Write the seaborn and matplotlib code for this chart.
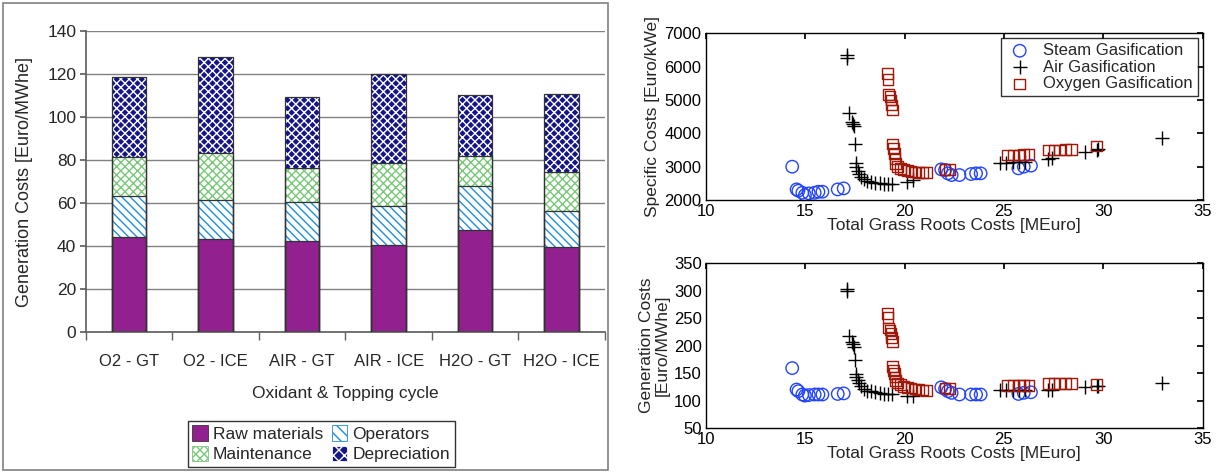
import matplotlib
matplotlib.use("Agg")
import matplotlib.pyplot as plt
from matplotlib.patches import Patch, Rectangle
import numpy as np
import seaborn as sns

# left panel: stacked generation costs per configuration
categories = ["O2 - GT", "O2 - ICE", "AIR - GT", "AIR - ICE", "H2O - GT", "H2O - ICE"]
raw_materials = [44.1, 43.2, 42.3, 40.7, 47.5, 39.6]
operators = [19.1, 18.4, 18.3, 18.0, 20.3, 16.9]
maintenance = [18.1, 21.6, 15.9, 20.1, 14.0, 18.0]
depreciation = [37.6, 44.6, 32.8, 41.5, 28.3, 36.1]

# right panels: grass roots costs vs specific / generation costs
steam_x = [14.35, 14.57, 14.66, 14.86, 14.99, 15.19, 15.48, 15.67, 15.87, 16.64, 16.94,
           21.85, 22.04, 22.18, 22.37, 22.76, 23.35, 23.6, 23.83, 25.73, 26.0, 26.36]
steam_specific = [3000, 2320, 2280, 2220, 2150, 2200, 2220, 2250, 2250, 2320, 2350,
                  2920, 2900, 2800, 2750, 2750, 2780, 2800, 2800, 2950, 3000, 3030]
steam_generation = [159, 120, 117, 111, 109, 110, 111, 111, 111, 112, 113,
                    124, 121, 117, 114, 111, 111, 111, 111, 112, 114, 115]

air_x = [17.13, 17.13, 17.23, 17.36, 17.42, 17.46, 17.52, 17.58, 17.58, 17.65, 17.73, 17.81,
         17.96, 18.1, 18.29, 18.49, 18.78, 18.97, 19.17, 19.36, 20.14, 20.43,
         24.8, 25.09, 25.48, 25.77, 26.06, 27.23, 27.42, 29.07, 29.66, 29.75, 32.96]
air_specific = [6350, 6250, 4600, 4350, 4280, 4220, 3680, 3100, 3000, 2880, 2780, 2700,
                2620, 2570, 2540, 2520, 2500, 2490, 2490, 2480, 2550, 2600,
                3120, 3120, 3130, 3140, 3140, 3220, 3250, 3450, 3500, 3520, 3870]
air_generation = [303, 299, 218, 206, 202, 197, 174, 149, 143, 137, 131, 126,
                  121, 118, 117, 115, 114, 112, 112, 111, 109, 109,
                  120, 120, 120, 119, 119, 120, 120, 124, 126, 126, 132]

oxygen_x = [19.13, 19.17, 19.21, 19.27, 19.32, 19.36, 19.4, 19.4, 19.44, 19.48, 19.52, 19.56,
            19.65, 19.79, 19.95, 20.14, 20.33, 20.53, 20.72, 20.92, 21.11, 22.04, 22.28,
            25.19, 25.48, 25.77, 26.0, 26.26, 27.23, 27.52, 27.81, 28.1, 28.39, 29.66]
oxygen_specific = [5800, 5620, 5170, 5100, 5000, 4850, 4700, 3680, 3550, 3400, 3250, 3100,
                   3000, 2950, 2920, 2880, 2850, 2840, 2820, 2820, 2820, 2920, 2920,
                   3350, 3350, 3350, 3370, 3370, 3500, 3500, 3500, 3520, 3520, 3620]
oxygen_generation = [258, 251, 232, 228, 222, 214, 208, 162, 155, 149, 143, 137,
                     132, 129, 126, 124, 123, 121, 120, 119, 118, 123, 122,
                     128, 128, 128, 128, 128, 131, 131, 131, 131, 131, 129]

sns.set_theme(style="white")
plt.rcParams["font.family"] = ["Liberation Sans", "DejaVu Sans"]
plt.rcParams["hatch.linewidth"] = 1.0

fig = plt.figure(figsize=(12.21, 4.73), dpi=100)

# ---------------- left: stacked bars ----------------
ax = fig.add_axes([0.0704, 0.298, 0.425, 0.636])
stack = np.cumsum([raw_materials, operators, maintenance, depreciation], axis=0)
layers = [
    ("Depreciation", stack[3], "#14148c", "white", "xxxx"),
    ("Maintenance", stack[2], "white", "#78c878", "xxxx"),
    ("Operators", stack[1], "white", "#1e8ee0", "\\\\\\\\"),
    ("Raw materials", stack[0], "#93208f", "#93208f", None),
]
for name, heights, face, hcol, hatch in layers:
    sns.barplot(x=categories, y=heights, ax=ax, color=face, saturation=1, width=0.4,
                edgecolor=hcol, linewidth=0, hatch=hatch, zorder=2)
for name, heights, face, hcol, hatch in layers:
    sns.barplot(x=categories, y=heights, ax=ax, color="#333333", fill=False,
                width=0.4, linewidth=0.9, zorder=3)

ax.set_ylim(0, 140)
ax.set_xlim(-0.5, 5.5)
ax.set_yticks(range(0, 141, 20))
ax.yaxis.grid(True, color="#808080", linewidth=1)
ax.set_axisbelow(True)
for side in ["top", "right"]:
    ax.spines[side].set_visible(False)
for side in ["left", "bottom"]:
    ax.spines[side].set_color("#606060")
ax.set_xticks(np.arange(-0.5, 6, 1), minor=True)
ax.tick_params(axis="x", which="major", length=0, pad=16, labelsize=12)
ax.tick_params(axis="x", which="minor", length=6, color="#606060", direction="out", bottom=True)
ax.tick_params(axis="y", length=4, color="#606060", direction="out", left=True, pad=3, labelsize=12.5)
ax.set_ylabel("Generation Costs [Euro/MWhe]", fontsize=13, labelpad=10)
ax.set_xlabel("Oxidant & Topping cycle", fontsize=12.5, labelpad=12)

handles = [
    Patch(facecolor="#93208f", edgecolor="#333333", linewidth=0.6, label="Raw materials"),
    Patch(facecolor="white", edgecolor="#78c878", hatch="xxxx", linewidth=0.6, label="Maintenance"),
    Patch(facecolor="white", edgecolor="#1e8ee0", hatch="\\\\\\", linewidth=0.6, label="Operators"),
    Patch(facecolor="#14148c", edgecolor="white", hatch="xxx", linewidth=0.6, label="Depreciation"),
]
leg = fig.legend(handles=handles, ncol=2, loc="upper center", bbox_to_anchor=(0.263, 0.128),
                 frameon=True, fancybox=False, edgecolor="black", fontsize=12.5,
                 handlelength=0.9, handleheight=1.0, handletextpad=0.3, columnspacing=0.5,
                 labelspacing=0.2, borderpad=0.25)
leg.get_frame().set_linewidth(1.0)

fig.patches.append(Rectangle((3 / 1221, 3 / 473), 605 / 1221, 467 / 473, transform=fig.transFigure,
                             fill=False, edgecolor="#808080", linewidth=1.2, zorder=0))

# ---------------- right: scatter panels ----------------
styles = [
    ("Steam Gasification", steam_x, steam_specific, steam_generation,
     dict(marker="o", facecolors="none", edgecolors="#2244ff", s=80, linewidths=1.0)),
    ("Air Gasification", air_x, air_specific, air_generation,
     dict(marker="+", color="black", s=110, linewidths=1.0)),
    ("Oxygen Gasification", oxygen_x, oxygen_specific, oxygen_generation,
     dict(marker="s", facecolors="none", edgecolors="#a01808", s=60, linewidths=1.0)),
]

ax_top = fig.add_axes([0.578, 0.577, 0.407, 0.353])
ax_bot = fig.add_axes([0.578, 0.095, 0.407, 0.349])
for label, xs, spec, gen, kw in styles:
    sns.scatterplot(x=xs, y=spec, ax=ax_top, label=label, **kw)
    sns.scatterplot(x=xs, y=gen, ax=ax_bot, **kw)

for a in (ax_top, ax_bot):
    a.set_xlim(10, 35)
    a.set_xticks(range(10, 36, 5))
    for sp in a.spines.values():
        sp.set_color("black")
        sp.set_linewidth(1.0)
    a.tick_params(direction="in", length=4, top=True, right=True, labelsize=12, pad=3,
                  color="black", labelcolor="black")
    a.set_xlabel("Total Grass Roots Costs [MEuro]", fontsize=12.5, labelpad=-1)

ax_top.set_ylim(2000, 7000)
ax_top.set_yticks(range(2000, 7001, 1000))
ax_top.set_ylabel("Specific Costs [Euro/kWe]", fontsize=12.5, labelpad=3)
ax_bot.set_ylim(50, 350)
ax_bot.set_yticks(range(50, 351, 50))
ax_bot.set_ylabel("Generation Costs\n[Euro/MWhe]", fontsize=12.5, labelpad=3, linespacing=1.05)
if ax_bot.get_legend():
    ax_bot.get_legend().remove()

lg = ax_top.legend(loc="upper right", frameon=True, fancybox=False, edgecolor="black",
                   fontsize=12, borderaxespad=0.3, handletextpad=0.6, labelspacing=0.1,
                   borderpad=0.3, handlelength=1.6)
lg.get_frame().set_linewidth(1.0)

fig.savefig("out.png", dpi=100)
